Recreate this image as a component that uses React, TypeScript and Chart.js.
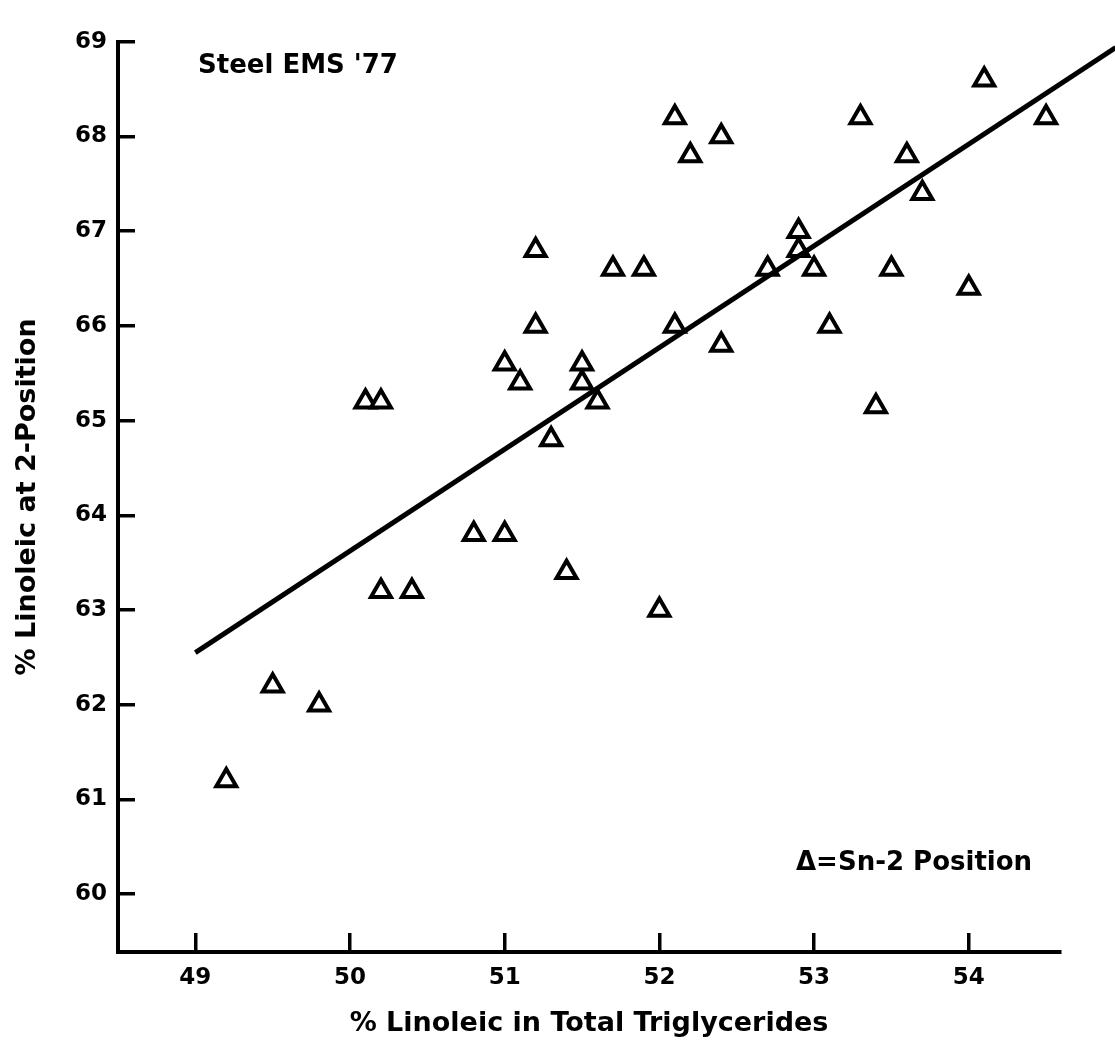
import { useEffect, useRef } from "react";
import { Chart, registerables } from "chart.js";

Chart.register(...registerables);

// % linoleic acid in total triglycerides (x) vs. at the sn-2 position (y)
const totalLinoleic = [
  49.2, 49.5, 49.8, 50.1, 50.2, 50.2, 50.4, 50.8, 51.0, 51.0,
  51.1, 51.2, 51.2, 51.3, 51.4, 51.5, 51.5, 51.6, 51.7, 51.9,
  52.0, 52.1, 52.1, 52.2, 52.4, 52.4, 52.7, 52.9, 52.9, 53.0,
  53.1, 53.3, 53.4, 53.5, 53.6, 53.7, 54.0, 54.1, 54.5,
];
const sn2Linoleic = [
  61.2, 62.2, 62.0, 65.2, 65.2, 63.2, 63.2, 63.8, 63.8, 65.6,
  65.4, 66.0, 66.8, 64.8, 63.4, 65.6, 65.4, 65.2, 66.6, 66.6,
  63.0, 66.0, 68.2, 67.8, 68.0, 65.8, 66.6, 67.0, 66.8, 66.6,
  66.0, 68.2, 65.15, 66.6, 67.8, 67.4, 66.4, 68.6, 68.2,
];

// fitted regression line end points
const fitX = [49.0, 54.95];
const fitY = [62.55, 68.94];

const xTicks = [49, 50, 51, 52, 53, 54];
const yTicks = [60, 61, 62, 63, 64, 65, 66, 67, 68, 69];

const xTitle = "% Linoleic in Total Triglycerides";
const yTitle = "% Linoleic at 2-Position";
const sourceLabel = "Steel EMS '77";
const legendLabel = "\u0394=Sn-2 Position";

const FONT = "'DejaVu Sans', sans-serif";

const notesPlugin = {
  id: "notes",
  afterDraw(chart: any) {
    const { ctx } = chart;
    ctx.save();
    ctx.fillStyle = "#000";
    ctx.textAlign = "left";
    ctx.textBaseline = "alphabetic";
    ctx.font = `bold 26px ${FONT}`;
    ctx.fillText(sourceLabel, 198, 73);
    ctx.font = `bold 26px ${FONT}`;
    ctx.fillText(legendLabel, 796, 870);
    ctx.restore();
  },
};

export default function App() {
  const canvasRef = useRef<HTMLCanvasElement | null>(null);

  useEffect(() => {
    document.body.style.margin = "0";
    const canvas = canvasRef.current;
    if (!canvas) return;

    const points = totalLinoleic.map((x, i) => ({ x, y: sn2Linoleic[i] }));
    const fitLine = fitX.map((x, i) => ({ x, y: fitY[i] }));

    const chart = new Chart(canvas, {
      type: "scatter",
      data: {
        datasets: [
          {
            type: "line",
            data: fitLine,
            borderColor: "#000",
            borderWidth: 5,
            pointRadius: 0,
            showLine: true,
            fill: false,
            clip: false,
          } as any,
          {
            data: points,
            pointStyle: "triangle",
            pointRadius: 11.5,
            pointBorderWidth: 4,
            pointBorderColor: "#000",
            pointBackgroundColor: "#fff",
          },
        ],
      },
      options: {
        animation: false,
        responsive: false,
        events: [],
        layout: { padding: { top: 20, right: 55, left: 0, bottom: 0 } },
        plugins: {
          legend: { display: false },
          tooltip: { enabled: false },
        },
        scales: {
          x: {
            type: "linear",
            min: 48.5,
            max: 54.59,
            afterBuildTicks: (scale: any) => {
              scale.ticks = xTicks.map((value) => ({ value }));
            },
            afterFit: (scale: any) => {
              scale.height = 91;
            },
            border: { display: true, color: "#000", width: 4 },
            grid: {
              drawOnChartArea: false,
              drawTicks: true,
              tickLength: -19,
              color: "#000",
              lineWidth: 3.5,
            },
            ticks: {
              color: "#000",
              padding: 31,
              font: { family: FONT, size: 23, weight: "bold" },
            },
            title: {
              display: true,
              text: xTitle,
              color: "#000",
              font: { family: FONT, size: 27, weight: "bold" },
              padding: { top: 0, bottom: 3 },
            },
          },
          y: {
            type: "linear",
            min: 59.39,
            max: 69,
            afterBuildTicks: (scale: any) => {
              scale.ticks = yTicks.map((value) => ({ value }));
            },
            afterFit: (scale: any) => {
              scale.width = 118;
            },
            border: { display: true, color: "#000", width: 4 },
            grid: {
              drawOnChartArea: false,
              drawTicks: true,
              tickLength: -17,
              color: "#000",
              lineWidth: 3.5,
            },
            ticks: {
              color: "#000",
              padding: 28,
              font: { family: FONT, size: 23, weight: "bold" },
            },
            title: {
              display: true,
              text: yTitle,
              color: "#000",
              font: { family: FONT, size: 27, weight: "bold" },
              padding: { top: 12, bottom: 0 },
            },
          },
        },
      },
      plugins: [notesPlugin],
    });

    return () => chart.destroy();
  }, []);

  return (
    <canvas
      ref={canvasRef}
      width={1115}
      height={1043}
      style={{ display: "block", width: 1115, height: 1043 }}
    />
  );
}
